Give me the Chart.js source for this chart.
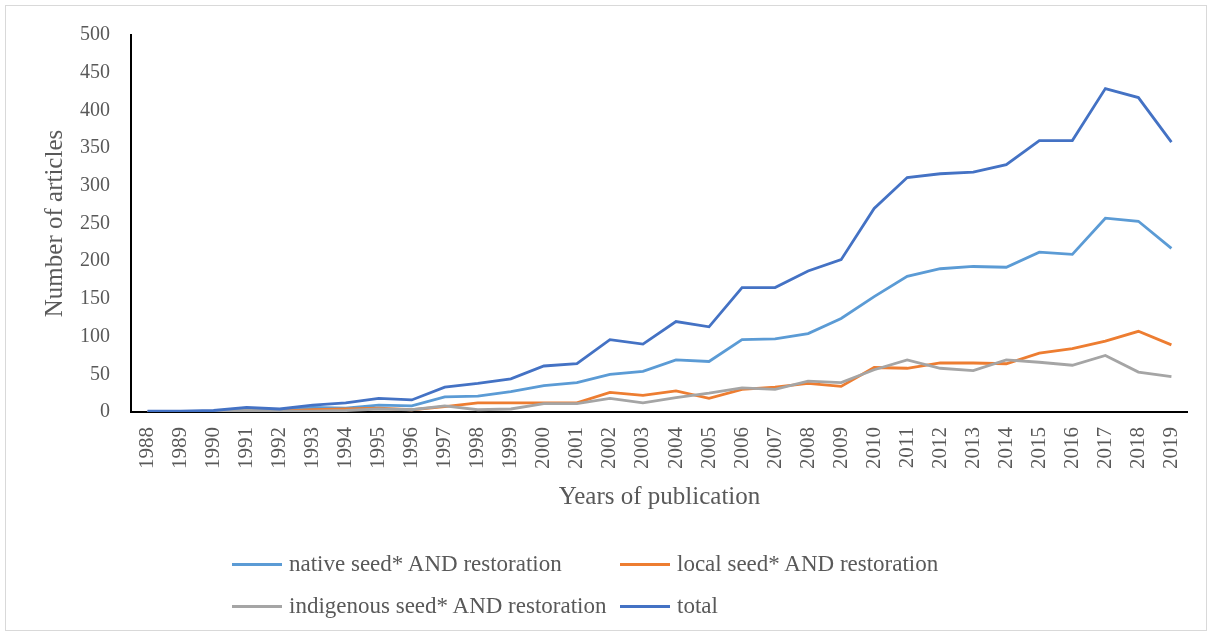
<!DOCTYPE html>
<html>
<head>
<meta charset="utf-8">
<script src="https://cdn.jsdelivr.net/npm/chart.js@4/dist/chart.umd.min.js"></script>
<style>
  body { margin: 0; background: #fff; }
  #wrap { position: relative; width: 1212px; height: 634px; }
  #frame { position: absolute; left: 5px; top: 5px; width: 1200px; height: 624px; border: 1px solid #d9d9d9; pointer-events: none; }
  #legend {
    position: absolute; left: 232px; top: 549px;
    display: grid; grid-template-columns: 388px auto; row-gap: 12px;
    font-family: "Liberation Serif", serif; font-size: 23px; color: #595959;
  }
  .item { display: flex; align-items: center; height: 30px; white-space: nowrap; }
  .swatch { width: 50px; height: 3px; margin-right: 7px; }
</style>
</head>
<body>
<div id="wrap">
  <canvas id="chart" width="1212" height="634"></canvas>
  <div id="frame"></div>
  <div id="legend"></div>
</div>
<script>
// years on the x axis
const years = [1988, 1989, 1990, 1991, 1992, 1993, 1994, 1995, 1996, 1997, 1998, 1999,
  2000, 2001, 2002, 2003, 2004, 2005, 2006, 2007, 2008, 2009, 2010, 2011,
  2012, 2013, 2014, 2015, 2016, 2017, 2018, 2019];

// articles per year
const nativeSeed = [0, 0, 1, 3, 2, 6, 5, 9, 8, 20, 21, 27, 35, 39, 50, 54,
  69, 67, 96, 97, 104, 124, 153, 180, 190, 193, 192, 212, 209, 257, 253, 217];
const localSeed = [0, 0, 0, 1, 1, 3, 4, 5, 3, 7, 12, 12, 12, 12, 26, 22,
  28, 18, 30, 33, 38, 34, 59, 58, 65, 65, 64, 78, 84, 94, 107, 89];
const indigenousSeed = [0, 0, 0, 2, 1, 1, 2, 4, 3, 8, 3, 4, 11, 11, 18, 12,
  19, 25, 32, 30, 41, 39, 56, 69, 58, 55, 69, 66, 62, 75, 53, 47];
const total = [1, 1, 2, 6, 4, 9, 12, 18, 16, 33, 38, 44, 61, 64, 96, 90,
  120, 113, 165, 165, 187, 202, 270, 311, 316, 318, 328, 360, 360, 429, 417, 358];

const yTicks = [0, 50, 100, 150, 200, 250, 300, 350, 400, 450, 500];

const textColor = "#595959";
const fontFamily = "'Liberation Serif', serif";

const series = [
  { label: "native seed* AND restoration", data: nativeSeed, color: "#5B9BD5", order: 4 },
  { label: "local seed* AND restoration", data: localSeed, color: "#ED7D31", order: 3 },
  { label: "indigenous seed* AND restoration", data: indigenousSeed, color: "#A5A5A5", order: 2 },
  { label: "total", data: total, color: "#4472C4", order: 1 },
];

new Chart(document.getElementById("chart"), {
  type: "line",
  data: {
    labels: years,
    datasets: series.map((s) => ({
      label: s.label,
      data: s.data,
      borderColor: s.color,
      backgroundColor: s.color,
      borderWidth: 2.8,
      pointRadius: 0,
      tension: 0,
      order: s.order,
    })),
  },
  options: {
    responsive: false,
    animation: false,
    layout: { padding: { left: 0, top: 35, right: 24, bottom: 122 } },
    plugins: { legend: { display: false }, tooltip: { enabled: false } },
    scales: {
      x: {
        offset: true,
        grid: { display: false, drawTicks: false },
        border: { display: true, color: "#000", width: 2 },
        ticks: {
          color: textColor, font: { family: fontFamily, size: 21 },
          minRotation: 90, maxRotation: 90, padding: 15, autoSkip: false,
        },
        title: {
          display: true, text: "Years of publication", color: textColor,
          font: { family: fontFamily, size: 25 }, padding: { top: 3, bottom: 0 },
        },
        afterFit: (scale) => { scale.height = 100; },
      },
      y: {
        min: 0, max: 500,
        grid: { display: false, drawTicks: false },
        border: { display: true, color: "#000", width: 2 },
        afterBuildTicks: (scale) => { scale.ticks = yTicks.map((v) => ({ value: v })); },
        ticks: { color: textColor, font: { family: fontFamily, size: 20 }, padding: 21 },
        title: {
          display: true, text: "Number of articles", color: textColor,
          font: { family: fontFamily, size: 25 }, padding: { top: 40, bottom: 0 },
        },
        afterFit: (scale) => { scale.width = 131; },
      },
    },
  },
});

// legend in two columns like the original
const legend = document.getElementById("legend");
series.forEach((s) => {
  const item = document.createElement("div");
  item.className = "item";
  const sw = document.createElement("span");
  sw.className = "swatch";
  sw.style.background = s.color;
  const txt = document.createElement("span");
  txt.textContent = s.label;
  item.appendChild(sw);
  item.appendChild(txt);
  legend.appendChild(item);
});
</script>
</body>
</html>
